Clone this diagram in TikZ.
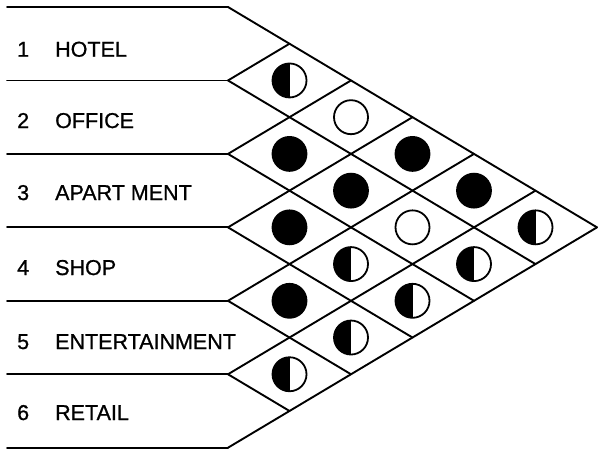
\documentclass[tikz,border=0pt]{standalone}
\usepackage{fontspec}
\setmainfont{Liberation Sans}
\newfontfamily\lblfont[RawFeature={embolden=0.9}]{Liberation Sans}
\begin{document}
\begin{tikzpicture}[x=1pt,y=-1pt,
  gridline/.style={line width=1.9pt, line cap=round, line join=round},
  lbl/.style={anchor=base west, inner sep=0pt, font=\fontsize{21.5}{22}\lblfont},
  ring/.style={circle, draw, line width=1.8pt, minimum size=34pt, inner sep=0pt},
  fullmoon/.style={ring, fill=black},
  emptymoon/.style={ring, fill=white},
  halfmoon/.style={ring, fill=white, path picture={\fill[black] (path picture bounding box.south west) rectangle (path picture bounding box.north);}}]
\useasboundingbox (0,0) rectangle (599,448);
% horizontal lines and their ends
\foreach \k in {0,...,6}{
  \coordinate (S\k) at (7,{7+\k*73.45});
  \coordinate (L\k) at (228,{7+\k*73.45});
  \draw[gridline] (S\k) -- (L\k);
}
% diagonals going down-right
\foreach \k in {0,...,5}{
  \coordinate (D\k) at ({228+(6-\k)*61.5},{7+\k*73.45+(6-\k)*36.725});
  \draw[gridline] (L\k) -- (D\k);
}
% diagonals going up-right
\foreach \k in {1,...,6}{
  \coordinate (U\k) at ({228+\k*61.5},{7+\k*73.45-\k*36.725});
  \draw[gridline] (L\k) -- (U\k);
}
% labels
\foreach \i/\base/\word in {1/56.7/HOTEL,2/128/OFFICE,3/200/APART MENT,4/275/SHOP,5/349/ENTERTAINMENT,6/420/RETAIL}{
  \node[lbl] (n\i) at (17,\base) {\i};
  \node[lbl] (w\i) at (55,\base) {\word};
}
% symbols
\foreach \i/\j/\kind in {1/2/halfmoon,1/3/emptymoon,2/3/fullmoon,1/4/fullmoon,2/4/fullmoon,3/4/fullmoon,
  1/5/fullmoon,2/5/emptymoon,3/5/halfmoon,4/5/fullmoon,1/6/halfmoon,2/6/halfmoon,3/6/halfmoon,4/6/halfmoon,5/6/halfmoon}{
  \node[\kind] (c\i\j) at ({228+(\j-\i)*61.5},{7+(\i+\j-1)*36.725}) {};
}
\end{tikzpicture}
\end{document}
